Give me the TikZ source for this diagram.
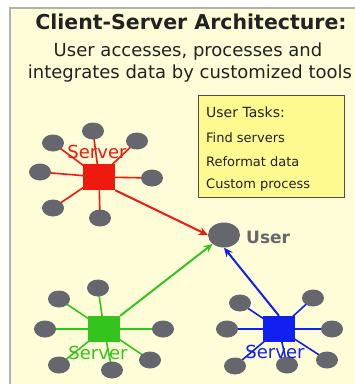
\documentclass[tikz,border=0pt]{standalone}
\usepackage{fontspec}
\setmainfont{DejaVu Sans}
\usetikzlibrary{arrows.meta,shapes.geometric}
\pgfdeclarelayer{back}
\pgfdeclarelayer{mid}
\pgfsetlayers{back,mid,main}
\definecolor{panel}{HTML}{FFFDD8}
\definecolor{boxy}{HTML}{FFFA90}
\definecolor{dotg}{HTML}{66666E}
\definecolor{sred}{HTML}{EE1A10}
\definecolor{sgreen}{HTML}{33C51E}
\definecolor{sblue}{HTML}{1020F0}
\definecolor{txt}{HTML}{222222}
\tikzset{
  leaf/.style={ellipse, fill=dotg, minimum width=22pt, minimum height=17pt, inner sep=0pt},
  srv/.style={rectangle, fill=#1, minimum width=32pt, minimum height=26pt, inner sep=0pt},
  spoke/.style={draw=#1, line width=1.6pt},
  link/.style={draw=#1, line width=2pt, -{Stealth[length=9pt,width=8pt]}},
  slabel/.style={text=#1, font=\fontsize{18}{18}\selectfont, inner sep=0pt},
  task/.style={anchor=west, text=txt, font=\fontsize{13}{13}\selectfont, inner sep=0pt}
}
\begin{document}
\begin{tikzpicture}[x=1pt,y=-1pt]
\useasboundingbox (0,0) rectangle (355,384);
\begin{pgfonlayer}{back}
\fill[white] (0,0) rectangle (355,384);
\fill[panel] (10,8) rectangle (356,385);
\draw[gray!60, line width=1.2pt] (10,385) -- (10,8) -- (356,8);
\end{pgfonlayer}

\node[font=\bfseries\fontsize{20.5}{20}\selectfont, text=txt, inner sep=0pt] (title) at (191,22) {Client-Server Architecture:};
\node[font=\fontsize{18}{18}\selectfont, text=txt, inner sep=0pt] (sub1) at (188,52) {User accesses, processes and};
\node[font=\fontsize{18}{18}\selectfont, text=txt, inner sep=0pt] (sub2) at (190,74) {integrates data by customized tools};

% user tasks box
\node[draw=txt!80, fill=boxy, line width=1pt, minimum width=146pt, minimum height=102pt, inner sep=0pt] (box) at (271,146) {};
\node[anchor=west, text=txt, font=\fontsize{14}{14}\selectfont, inner sep=0pt] (ut) at (206,112) {User Tasks:};
\node[task] (t1) at (206,138) {Find servers};
\node[task] (t2) at (206,162) {Reformat data};
\node[task] (t3) at (206,185) {Custom process};

% user
\node[ellipse, fill=dotg, minimum width=32pt, minimum height=25pt, inner sep=0pt] (user) at (224,235) {};
\node[anchor=west, text=dotg, font=\bfseries\fontsize{17}{17}\selectfont, inner sep=0pt] (ulab) at (246,237) {User};

% red server
\node[srv=sred] (rs) at (99,177) {};
\foreach \n/\x/\y in {a/93/131, b/53/143, c/137/141, d/40/172, e/152/178, f/53/208, g/100/218} {
  \node[leaf] (r\n) at (\x,\y) {};
}
\begin{pgfonlayer}{mid}
\foreach \n in {a,b,c,d,e,f,g} { \draw[spoke=sred] (rs.center) -- (r\n.center); }
\end{pgfonlayer}
\node[slabel=sred] (rl) at (97,152) {Server};

% green server
\node[srv=sgreen] (gs) at (104,329) {};
\foreach \n/\x/\y in {a/98/288, b/59/299, c/45/329, d/163/329, e/59/365, f/112/370, g/150/360} {
  \node[leaf] (g\n) at (\x,\y) {};
}
\begin{pgfonlayer}{mid}
\foreach \n in {a,b,c,d,e,f,g} { \draw[spoke=sgreen] (gs.center) -- (g\n.center); }
\end{pgfonlayer}
\node[slabel=sgreen] (gl) at (98,353) {Server};

% blue server
\node[srv=sblue] (bs) at (279,329) {};
\foreach \n/\x/\y in {a/240/303, b/313/298, c/227/329, d/332/329, e/235/366, f/287/365, g/327/360} {
  \node[leaf] (b\n) at (\x,\y) {};
}
\begin{pgfonlayer}{mid}
\foreach \n in {a,b,c,d,e,f,g} { \draw[spoke=sblue] (bs.center) -- (b\n.center); }
\end{pgfonlayer}
\node[slabel=sblue] (bl) at (275,352) {Server};

% links
\draw[link=sred] (rs.south east) -- (user.west);
\draw[link=sgreen] (gs.north east) -- (user.south west);
\draw[link=sblue] (bs.north) -- (user.south);
\end{tikzpicture}
\end{document}
